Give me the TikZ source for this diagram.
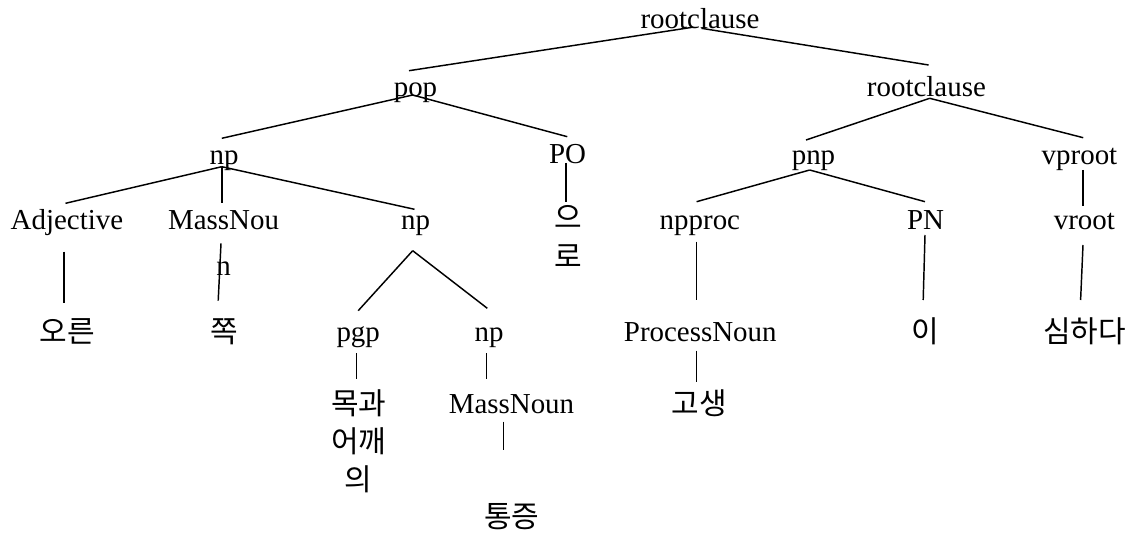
\documentclass[tikz,border=0pt]{standalone}
\usepackage{fontspec}
\setmainfont{Liberation Serif}
\newfontfamily\kr{Noto Sans CJK KR}
\begin{document}
\begin{tikzpicture}[x=0.75pt,y=-0.75pt,
  lbl/.style={anchor=base,inner sep=0pt,font=\fontsize{21.7}{26}\selectfont},
  klbl/.style={anchor=base,inner sep=0pt,font=\fontsize{22.5}{26}\selectfont\kr},
  edge/.style={line width=1.1pt}]
\useasboundingbox (0,0) rectangle (1135,538);
% nodes
\node[lbl] (root) at (700,28.3) {rootclause};
\node[lbl] (pop) at (415.5,96.7) {pop};
\node[lbl] (rc) at (926.4,96.7) {rootclause};
\node[lbl] (np) at (224.2,165) {np};
\node[lbl] (po) at (567.5,164) {PO};
\node[lbl] (pnp) at (813.5,165) {pnp};
\node[lbl] (vproot) at (1079.5,165) {vproot};
\node[lbl] (adj) at (66.9,230) {Adjective};
\node[lbl] (mass) at (223.6,230) {\vtop{\baselineskip=34.5pt\halign{\hfil#\hfil\cr MassNou\cr n\cr}}};
\node[lbl] (npb) at (415.5,230) {np};
\node[klbl] (euro) at (568,229) {\vtop{\baselineskip=28.7pt\halign{\hfil#\hfil\cr 으\cr 로\cr}}};
\node[lbl] (npproc) at (699.9,230) {npproc};
\node[lbl] (pn) at (925.5,230) {PN};
\node[lbl] (vroot) at (1084.4,230) {vroot};
\node[klbl] (oreun) at (67.3,342) {오른};
\node[klbl] (jjok) at (224.5,342) {쪽};
\node[lbl] (pgp) at (358.2,341.7) {pgp};
\node[lbl] (npc) at (489,341.7) {np};
\node[lbl] (procn) at (700.3,341.7) {ProcessNoun};
\node[klbl] (i) at (925,342) {이};
\node[klbl] (simhada) at (1084.4,342) {심하다};
\node[klbl] (mokgwa) at (358.7,414) {\vtop{\baselineskip=28.7pt\halign{\hfil#\hfil\cr 목과\cr 어깨\cr 의\cr}}};
\node[lbl] (massn) at (511.5,413.3) {MassNoun};
\node[klbl] (gosaeng) at (699.2,414) {고생};
\node[klbl] (tongjeung) at (511.8,527) {통증};
% connector end points
\coordinate (rootB1) at (692.3,27.3);
\coordinate (rootB2) at (701.4,28.3);
\coordinate (popT) at (409,70.7);
\coordinate (rcT) at (928.6,65);
\coordinate (popB) at (412.7,95);
\coordinate (npT) at (221.8,138.3);
\coordinate (poT) at (567.3,136.7);
\coordinate (rcB) at (929.7,98.3);
\coordinate (pnpT) at (806,140);
\coordinate (vprootT) at (1083.2,137.7);
\coordinate (npB) at (221.8,166.7);
\coordinate (adjT) at (65.5,203.3);
\coordinate (massT) at (221.8,203.3);
\coordinate (npbT) at (414.5,209.3);
\coordinate (poB) at (566,163);
\coordinate (euroT) at (566,201.7);
\coordinate (pnpB) at (809.7,170);
\coordinate (npprocT) at (696.6,201.7);
\coordinate (pnT) at (925,201.7);
\coordinate (vprootB) at (1083.2,170);
\coordinate (vrootT) at (1083.2,206);
\coordinate (adjB) at (64,251.7);
\coordinate (oreunT) at (64,302.7);
\coordinate (massB) at (221,243.3);
\coordinate (jjokT) at (218.2,300.7);
\coordinate (npbB) at (412.7,250.7);
\coordinate (pgpT) at (358.2,310.7);
\coordinate (npcT) at (487.3,308.3);
\coordinate (npprocB) at (696.6,241.7);
\coordinate (procnT) at (696.6,300);
\coordinate (pnB) at (925,235);
\coordinate (iT) at (923.2,300);
\coordinate (vrootB) at (1083,245);
\coordinate (simhadaT) at (1080.6,300);
\coordinate (pgpB) at (356.4,353.3);
\coordinate (mokgwaT) at (356.4,379.3);
\coordinate (npcB) at (486.5,353.3);
\coordinate (massnT) at (486.5,379.3);
\coordinate (procnB) at (696.6,350.7);
\coordinate (gosaengT) at (696.6,381.7);
\coordinate (massnB) at (503.6,421.7);
\coordinate (tongjeungT) at (503.6,450);
% connectors
\draw[edge] (rootB1) -- (popT);
\draw[edge] (rootB2) -- (rcT);
\draw[edge] (popB) -- (npT);
\draw[edge] (popB) -- (poT);
\draw[edge] (rcB) -- (pnpT);
\draw[edge] (rcB) -- (vprootT);
\draw[edge] (npB) -- (adjT);
\draw[edge] (npB) -- (massT);
\draw[edge] (npB) -- (npbT);
\draw[edge] (poB) -- (euroT);
\draw[edge] (pnpB) -- (npprocT);
\draw[edge] (pnpB) -- (pnT);
\draw[edge] (vprootB) -- (vrootT);
\draw[edge] (adjB) -- (oreunT);
\draw[edge] (massB) -- (jjokT);
\draw[edge] (npbB) -- (pgpT);
\draw[edge] (npbB) -- (npcT);
\draw[edge] (npprocB) -- (procnT);
\draw[edge] (pnB) -- (iT);
\draw[edge] (vrootB) -- (simhadaT);
\draw[edge] (pgpB) -- (mokgwaT);
\draw[edge] (npcB) -- (massnT);
\draw[edge] (procnB) -- (gosaengT);
\draw[edge] (massnB) -- (tongjeungT);
\end{tikzpicture}
\end{document}
